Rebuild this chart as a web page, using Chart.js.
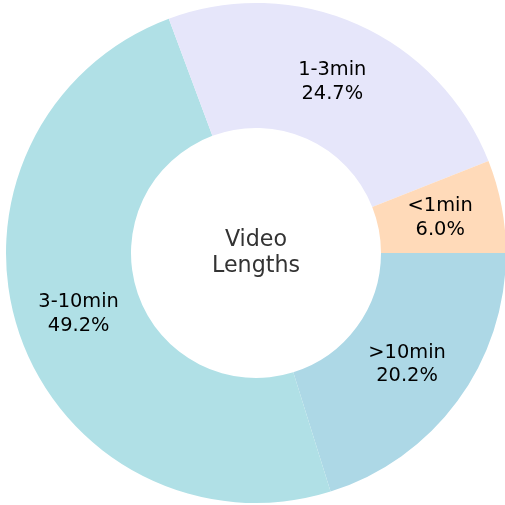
<!DOCTYPE html>
<html>
<head>
<meta charset="utf-8">
<script src="https://cdn.jsdelivr.net/npm/chart.js@4"></script>
<style>
  html, body { margin: 0; padding: 0; background: #fff; overflow: hidden; }
  #wrap { width: 512px; height: 506px; }
</style>
</head>
<body>
<div id="wrap"><canvas id="chart"></canvas></div>
<script>
// slices listed clockwise from 3 o'clock (same look as the counter-clockwise original)
const categories = ['>10min', '3-10min', '1-3min', '<1min'];
const shares = [20.2, 49.2, 24.7, 6.0];
const colors = ['#ADD8E6', '#B0E0E6', '#E6E6FA', '#FFDAB9'];
const centerLines = ['Video', 'Lengths'];

// labels in the middle of the ring
const sliceLabels = {
  id: 'sliceLabels',
  afterDatasetsDraw(chart) {
    const ctx = chart.ctx;
    const meta = chart.getDatasetMeta(0);
    ctx.save();
    ctx.font = '19.4px "DejaVu Sans"';
    ctx.fillStyle = '#000';
    ctx.textAlign = 'center';
    ctx.textBaseline = 'middle';
    meta.data.forEach((arc, i) => {
      const p = arc.getProps(['x', 'y', 'startAngle', 'endAngle', 'innerRadius', 'outerRadius'], true);
      const mid = (p.startAngle + p.endAngle) / 2;
      const r = (p.innerRadius + p.outerRadius) / 2;
      const cx = p.x + Math.cos(mid) * r;
      const cy = p.y + Math.sin(mid) * r;
      ctx.fillText(categories[i], cx, cy - 11.5);
      ctx.fillText(shares[i].toFixed(1) + '%', cx, cy + 12);
    });
    // text in the hole
    const a = meta.data[0];
    ctx.font = '22.2px "DejaVu Sans"';
    ctx.fillStyle = '#333';
    ctx.fillText(centerLines[0], a.x, a.y - 13);
    ctx.fillText(centerLines[1], a.x, a.y + 13);
    ctx.restore();
  }
};

new Chart(document.getElementById('chart'), {
  type: 'doughnut',
  data: {
    labels: categories,
    datasets: [{
      data: shares,
      backgroundColor: colors,
      borderWidth: 0
    }]
  },
  options: {
    responsive: true,
    maintainAspectRatio: false,
    animation: false,
    rotation: 90,
    cutout: '50%',
    layout: { padding: { left: 6, right: 6, top: 3, bottom: 3 } },
    plugins: {
      legend: { display: false },
      tooltip: { enabled: false }
    }
  },
  plugins: [sliceLabels]
});
</script>
</body>
</html>
